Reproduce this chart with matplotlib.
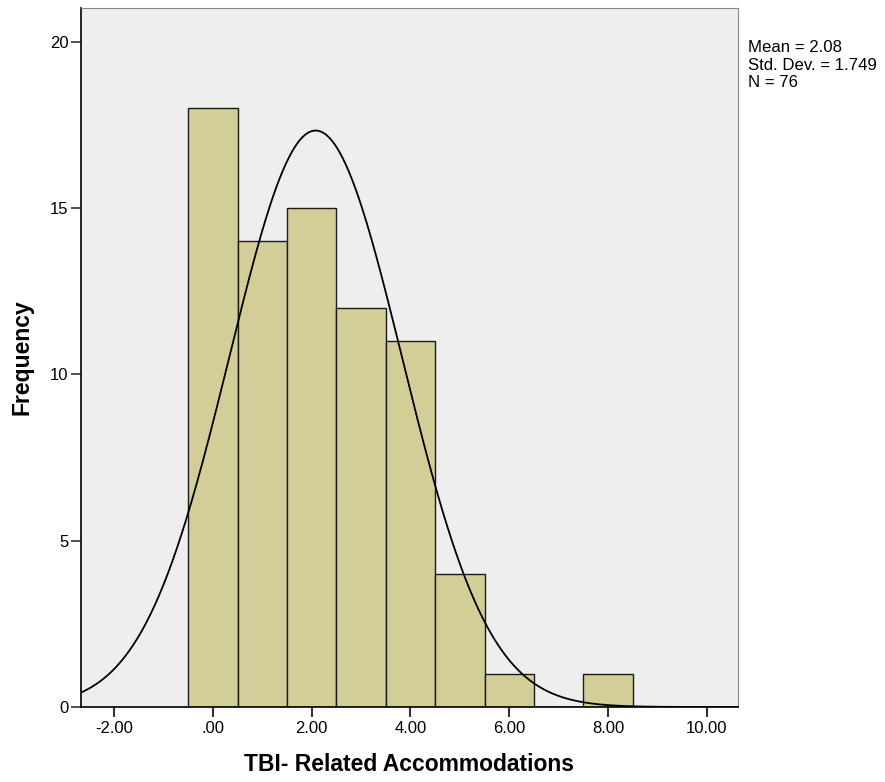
"""SPSS-style histogram of TBI-related accommodations with normal curve."""

import numpy as np
import matplotlib
matplotlib.use("Agg")
import matplotlib.pyplot as plt

# bin centres and counts
bin_centers = [0, 1, 2, 3, 4, 5, 6, 7, 8]
counts = [18, 14, 15, 12, 11, 4, 1, 0, 1]
x_ticks = [-2, 0, 2, 4, 6, 8, 10]
x_tick_labels = ["-2.00", ".00", "2.00", "4.00", "6.00", "8.00", "10.00"]
y_ticks = [0, 5, 10, 15, 20]

mean = 2.08
std = 1.749
n = 76

fig = plt.figure(figsize=(8.85, 7.82), dpi=100)
ax = fig.add_axes([81 / 885, 1 - 707 / 782, (738 - 81) / 885, (707 - 8) / 782])
ax.set_facecolor("#eeeeee")

ax.bar(bin_centers, counts, width=1.0, color="#d3ce97", edgecolor="#1a1a1a",
       linewidth=1.0, zorder=2)

# normal curve scaled to counts (bin width 1)
xs = np.linspace(-2.7, 10.7, 600)
ys = n * 1.0 / (std * np.sqrt(2 * np.pi)) * np.exp(-0.5 * ((xs - mean) / std) ** 2)
ax.plot(xs, ys, color="black", linewidth=1.3, zorder=3)

ax.set_xlim(-2.67, 10.63)
ax.set_ylim(0, 21.02)
ax.set_xticks(x_ticks)
ax.set_xticklabels(x_tick_labels)
ax.set_yticks(y_ticks)

for side in ["top", "right"]:
    ax.spines[side].set_color("#888888")
for side in ["left", "bottom"]:
    ax.spines[side].set_color("black")
    ax.spines[side].set_linewidth(1.2)

ax.tick_params(axis="x", length=7, width=1.5, labelsize=12, pad=3,
               color="#333333")
ax.tick_params(axis="y", length=7, width=1.2, labelsize=12, pad=2,
               color="#333333")
for lab in ax.get_xticklabels() + ax.get_yticklabels():
    lab.set_fontfamily("Liberation Sans")

ax.set_xlabel("TBI- Related Accommodations", fontsize=16.5, fontweight="bold",
              fontfamily="Liberation Sans", labelpad=12)
ax.set_ylabel("Frequency", fontsize=16.5, fontweight="bold",
              fontfamily="Liberation Sans", labelpad=12)

fig.text(748 / 885, 1 - 65 / 782,
         f"Mean = {mean:.2f}\nStd. Dev. = {std:.3f}\nN = {n}",
         fontsize=12.1, fontfamily="Liberation Sans", va="center", ha="left",
         linespacing=1.18)

fig.savefig("out.png", dpi=100)
